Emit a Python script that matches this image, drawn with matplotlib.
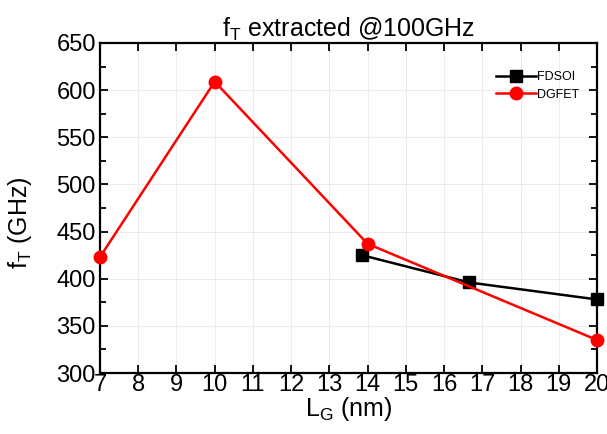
import matplotlib
matplotlib.use("Agg")
import matplotlib.pyplot as plt
from matplotlib.ticker import MultipleLocator

plt.rcParams['font.family'] = ['Liberation Sans', 'DejaVu Sans']

fdsoi_x = [13.85, 16.66, 20.0]
fdsoi_y = [425, 396, 378]
dgfet_x = [7, 10, 14, 20]
dgfet_y = [423, 609, 437, 335]

fig = plt.figure(figsize=(6.07, 4.34), dpi=100)
ax = fig.add_axes([100/607, 1-373/434, 497/607, 330/434])

ax.plot(fdsoi_x, fdsoi_y, color='black', marker='s', markersize=8, lw=1.8, label='FDSOI', clip_on=False, zorder=3)
ax.plot(dgfet_x, dgfet_y, color='red', marker='o', markersize=9, lw=1.8, label='DGFET', clip_on=False, zorder=4)

ax.set_xlim(7, 20)
ax.set_ylim(300, 650)
ax.xaxis.set_major_locator(MultipleLocator(1))
ax.yaxis.set_major_locator(MultipleLocator(50))
ax.yaxis.set_minor_locator(MultipleLocator(25))
ax.tick_params(which='both', direction='in', top=True, right=True, labelsize=17)
ax.tick_params(which='major', length=6, width=1.3)
ax.tick_params(which='minor', length=4, width=1.3)
ax.tick_params(axis='x', pad=1)
ax.tick_params(axis='y', pad=3)
ax.grid(True, which='major', color='#ececec', lw=0.7)
for s in ax.spines.values():
    s.set_linewidth(1.6)

ax.set_xlabel(r'L$_\mathregular{G}$ (nm)', fontsize=18, labelpad=-1)
ax.set_ylabel(r'f$_\mathregular{T}$ (GHz)', fontsize=18)
ax.yaxis.set_label_coords(-66/497, (373-223)/330)
ax.set_title(r'f$_\mathregular{T}$ extracted @100GHz', fontsize=18, pad=3)

leg = ax.legend(loc='upper right', frameon=False, fontsize=9, handlelength=3.2,
                handletextpad=0.15, labelspacing=0.45, borderaxespad=0,
                bbox_to_anchor=(0.975, 0.93))

fig.savefig('out.png', dpi=100)
